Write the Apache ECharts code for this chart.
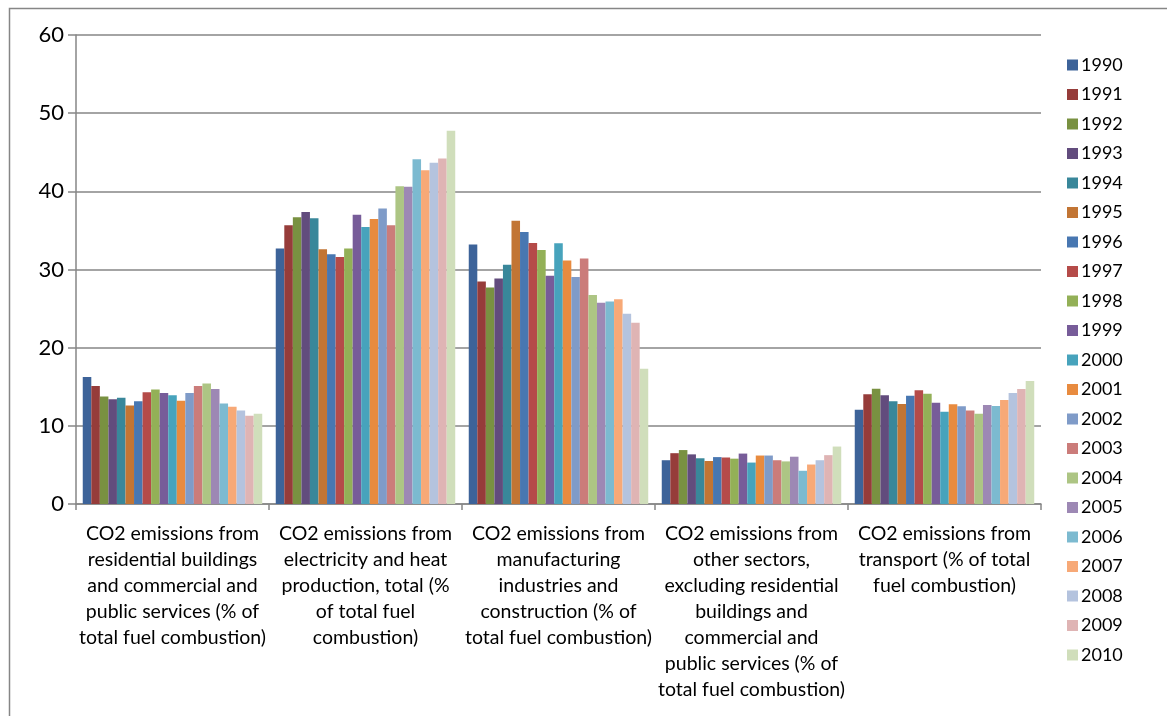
<!DOCTYPE html>
<html>
<head>
<meta charset="utf-8">
<script src="https://cdn.jsdelivr.net/npm/echarts@6/dist/echarts.min.js"></script>
<style>
html,body{margin:0;padding:0;background:#fff;}
#chart{width:1167px;height:716px;}
</style>
</head>
<body>
<div id="chart"></div>
<script>
// Categories (sectors), with line breaks as in the original
var categories = [
  "CO2 emissions from\nresidential buildings\nand commercial and\npublic services (% of\ntotal fuel combustion)",
  "CO2 emissions from\nelectricity and heat\nproduction, total (%\nof total fuel\ncombustion)",
  "CO2 emissions from\nmanufacturing\nindustries and\nconstruction (% of\ntotal fuel combustion)",
  "CO2 emissions from\nother sectors,\nexcluding residential\nbuildings and\ncommercial and\npublic services (% of\ntotal fuel combustion)",
  "CO2 emissions from\ntransport (% of total\nfuel combustion)"
];

var years = ["1990","1991","1992","1993","1994","1995","1996","1997","1998","1999","2000",
             "2001","2002","2003","2004","2005","2006","2007","2008","2009","2010"];

// Values per sector, 1990..2010
var residential = [16.25,15.1,13.75,13.4,13.6,12.6,13.15,14.3,14.65,14.2,13.9,13.2,14.2,15.1,15.4,14.7,12.85,12.45,11.95,11.3,11.55];
var electricity = [32.7,35.65,36.7,37.35,36.55,32.6,31.95,31.6,32.7,37.0,35.45,36.45,37.8,35.65,40.65,40.6,44.1,42.7,43.65,44.2,47.75];
var manufacturing = [33.2,28.45,27.7,28.85,30.6,36.25,34.8,33.4,32.5,29.2,33.35,31.15,29.05,31.4,26.75,25.75,25.9,26.2,24.35,23.2,17.3];
var otherSectors = [5.6,6.5,6.9,6.35,5.85,5.5,6.0,5.95,5.8,6.45,5.3,6.2,6.2,5.6,5.45,6.05,4.25,5.05,5.6,6.25,7.35];
var transport = [12.05,14.05,14.75,13.9,13.15,12.8,13.85,14.55,14.1,12.95,11.8,12.75,12.5,11.95,11.55,12.65,12.55,13.3,14.2,14.7,15.75];

var yTicks = [0,10,20,30,40,50,60];

var colors = ["#3D6399","#963C3A","#799141","#624C7D","#39879A","#C27534","#4877B1","#B54B49",
              "#93B057","#775C99","#47A3BC","#E88B3F","#7F9BC8","#CB7C7A","#ADC584","#9D88B4",
              "#7CBAD0","#F7A977","#B4C3DE","#DFB4B4","#D0DEBB"];

var sectors = [residential, electricity, manufacturing, otherSectors, transport];

var series = years.map(function(y, i){
  return {
    name: y,
    type: 'bar',
    barGap: '0%',
    barCategoryGap: '7%',
    itemStyle: {color: colors[i]},
    data: sectors.map(function(s){ return s[i]; })
  };
});

var FONT = "Lato, Carlito, Calibri, sans-serif";
var chart = echarts.init(document.getElementById('chart'), null, {renderer: 'canvas'});
chart.setOption({
  animation: false,
  backgroundColor: '#fff',
  color: colors,
  graphic: [{
    type: 'rect',
    left: 7, top: 6,
    shape: {width: 1175, height: 730},
    style: {fill: 'none', stroke: '#868686', lineWidth: 1.5},
    silent: true, z: -1
  }],
  grid: {left: 76, right: 126, top: 35, bottom: 212, containLabel: false},
  legend: {
    orient: 'vertical',
    left: 1062,
    top: 50,
    itemWidth: 11,
    itemHeight: 11,
    itemGap: 9.5,
    icon: 'rect',
    textStyle: {fontFamily: FONT, fontSize: 18, color: '#000', lineHeight: 20, padding: [0,0,0,-2]},
    data: years
  },
  xAxis: {
    type: 'category',
    data: categories,
    boundaryGap: true,
    axisLine: {show: true, lineStyle: {color: '#868686', width: 1.5}},
    axisTick: {show: true, length: 6, alignWithLabel: false, lineStyle: {color: '#868686', width: 1.5}},
    axisLabel: {
      interval: 0,
      margin: 17,
      fontFamily: FONT,
      fontSize: 19.5,
      lineHeight: 26,
      color: '#000',
      align: 'center'
    }
  },
  yAxis: {
    type: 'value',
    min: 0, max: 60, interval: 10,
    axisLine: {show: true, lineStyle: {color: '#868686', width: 1.5}},
    axisTick: {show: true, length: 8, lineStyle: {color: '#868686', width: 1.5}},
    splitLine: {show: true, lineStyle: {color: '#868686', width: 1.5}},
    axisLabel: {
      margin: 12,
      fontFamily: FONT,
      fontSize: 22,
      color: '#000',
      formatter: function(v){ return yTicks.indexOf(v) >= 0 ? String(v) : ''; }
    }
  },
  series: series
});
</script>
</body>
</html>
